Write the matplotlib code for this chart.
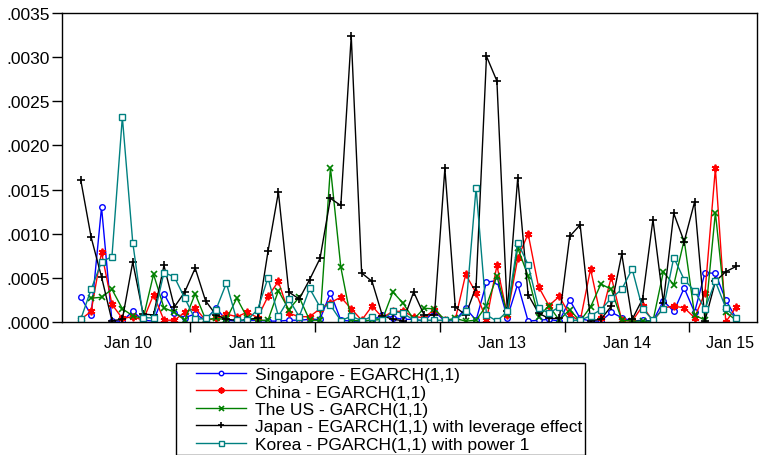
import numpy as np
import matplotlib
matplotlib.use("Agg")
import matplotlib.pyplot as plt
from matplotlib.patches import Rectangle
from matplotlib.ticker import FixedLocator, FuncFormatter

plt.rcParams['font.family'] = ['Liberation Sans', 'DejaVu Sans']

# monthly conditional variances, values in units of 1e-3
scale = 1e-3
nan = np.nan

singapore = [0.28, 0.08, 1.30, 0.01, 0.01, 0.12, 0.02, 0.01, 0.32, 0.10,
             0.05, 0.09, 0.02, 0.16, 0.02, 0.01, 0.02, 0.02, 0.01, 0.01,
             0.02, 0.02, 0.03, 0.03, 0.33, 0.02, 0.01, 0.01, 0.02, 0.08,
             0.05, 0.03, 0.03, 0.01, 0.12, 0.01, 0.02, 0.155, 0.02, 0.45,
             0.47, 0.05, 0.43, 0.01, 0.02, 0.03, 0.01, 0.25, 0.04, 0.01,
             0.01, 0.11, 0.05, 0.01, 0.02, 0.01, 0.24, 0.12, 0.385, 0.11,
             0.56, 0.55, 0.25, 0.04]

china = [0.03, 0.12, 0.79, 0.20, 0.04, 0.06, 0.02, 0.31, 0.02, 0.02,
         0.11, 0.16, 0.02, 0.04, 0.09, 0.06, 0.11, 0.05, 0.29, 0.46,
         0.10, 0.06, 0.06, 0.15, 0.22, 0.28, 0.15, 0.02, 0.18, 0.05,
         0.12, 0.12, 0.06, 0.05, 0.14, 0.02, 0.03, 0.54, 0.33, 0.02,
         0.64, 0.08, 0.72, 1.00, 0.40, 0.185, 0.29, 0.08, 0.01, 0.60,
         0.05, 0.51, 0.02, 0.01, 0.18, 0.01, 0.16, 0.18, 0.16, 0.05,
         0.33, 1.74, 0.00, 0.17]

us = [nan, 0.27, 0.28, 0.37, 0.15, 0.07, 0.04, 0.54, 0.16, 0.11,
      0.02, 0.32, 0.03, 0.04, 0.03, 0.27, 0.05, 0.02, 0.02, 0.355,
      0.14, 0.28, 0.02, 0.02, 1.75, 0.62, 0.02, 0.01, 0.02, 0.03,
      0.34, 0.21, 0.03, 0.155, 0.15, 0.02, 0.04, 0.01, 0.02, 0.185,
      0.52, 0.09, 0.84, 0.52, 0.06, 0.185, 0.02, 0.14, 0.01, 0.17,
      0.43, 0.37, 0.02, 0.01, 0.01, 0.01, 0.57, 0.42, 0.93, 0.08,
      0.02, 1.24, 0.11, 0.02]

japan = [1.61, 0.96, 0.51, 0.015, 0.03, 0.68, 0.09, 0.08, 0.64, 0.17,
         0.34, 0.61, 0.24, 0.08, 0.03, 0.02, 0.02, 0.05, 0.80, 1.47,
         0.34, 0.26, 0.48, 0.72, 1.40, 1.32, 3.24, 0.555, 0.46, 0.07,
         0.03, 0.015, 0.34, 0.08, 0.08, 1.74, 0.17, 0.08, 0.40, 3.01,
         2.73, 0.12, 1.63, 0.31, 0.10, 0.04, 0.04, 0.97, 1.10, 0.015,
         0.03, 0.18, 0.77, 0.03, 0.26, 1.16, 0.22, 1.23, 0.91, 1.36,
         0.015, 0.46, 0.57, 0.63]

korea = [0.03, 0.37, 0.68, 0.74, 2.32, 0.90, 0.05, 0.045, 0.56, 0.51,
         0.27, 0.03, 0.04, 0.14, 0.44, 0.02, 0.02, 0.14, 0.50, 0.065,
         0.26, 0.06, 0.38, 0.17, 0.19, 0.015, 0.065, 0.015, 0.06, 0.02,
         0.12, 0.10, 0.02, 0.02, 0.02, 0.02, 0.02, 0.12, 1.52, 0.08,
         0.01, 0.12, 0.90, 0.65, 0.16, 0.10, 0.17, 0.02, 0.02, 0.07,
         0.14, 0.27, 0.37, 0.60, 0.15, 0.02, 0.15, 0.73, 0.48, 0.35,
         0.15, 0.46, 0.16, 0.04]

labels = ["Singapore - EGARCH(1,1)", "China - EGARCH(1,1)", "The US - GARCH(1,1)",
          "Japan - EGARCH(1,1) with leverage effect", "Korea - PGARCH(1,1) with power 1"]
year_labels = ["Jan 10", "Jan 11", "Jan 12", "Jan 13", "Jan 14", "Jan 15"]

obs = np.arange(len(japan))

fig = plt.figure(figsize=(7.59, 4.56), dpi=100)
ax = fig.add_axes([62 / 759, 1 - 323 / 456, 695 / 759, 309 / 456])

styles = [
    dict(color='#0000FF', marker='o', ms=4, mfc='white'),
    dict(color='#FF0000', marker=(6, 2, 0), ms=5.5, mew=1.3),
    dict(color='#008000', marker='x', ms=4.5, mew=1.2),
    dict(color='black', marker='+', ms=6, mew=1.2),
    dict(color='#008080', marker='s', ms=4.5, mfc='white'),
]
series = [singapore, china, us, japan, korea]

handles = []
for vals, st in zip(series, styles):
    h, = ax.plot(obs, np.array(vals) * scale, lw=1.0, **st)
    handles.append(h)

ax.set_xlim(-1.8, 65.0)
ax.set_ylim(0, 0.0035)

# year boundaries as ticks, year labels in between
ax.xaxis.set_major_locator(FixedLocator(np.arange(10.5, 64, 12)))
ax.xaxis.set_minor_locator(FixedLocator([4.5, 16.5, 28.5, 40.5, 52.5, 62.4]))
ax.xaxis.set_major_formatter(FuncFormatter(lambda v, p: ""))
ax.set_xticklabels(year_labels, minor=True)
ax.tick_params(axis='x', which='major', direction='out', length=7, width=1)
ax.tick_params(axis='x', which='minor', length=0, pad=9, labelsize=11.5)

ax.set_yticks(np.arange(0, 0.00351, 0.0005))
ax.yaxis.set_major_formatter(FuncFormatter(lambda v, p: f"{v:.4f}".lstrip('0')))
ax.tick_params(axis='y', direction='out', length=7, width=1, labelsize=12.5, pad=1.5)

for s in ax.spines.values():
    s.set_linewidth(1.0)

# legend box drawn separately so the entries can sit further in
box = Rectangle((176 / 759, 1 - 455.5 / 456), 409 / 759, 91.5 / 456,
                transform=fig.transFigure, fill=False, ec='black', lw=1.0)
fig.patches.append(box)

leg = fig.legend(handles, labels, loc='upper left', bbox_to_anchor=(196 / 759, 1 - 368 / 456),
                 fontsize=12.5, frameon=False, handlelength=2.9, handletextpad=0.5,
                 labelspacing=0.13, borderpad=0.0, borderaxespad=0, numpoints=1,
                 markerscale=0.8)

fig.savefig("out.png", dpi=100)
